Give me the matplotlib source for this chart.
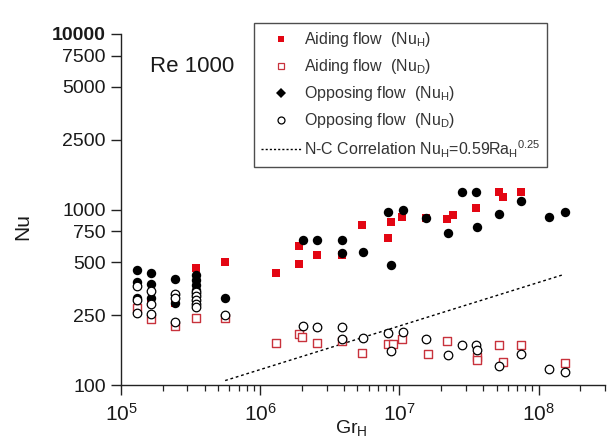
import matplotlib
matplotlib.use("Agg")
import matplotlib.pyplot as plt
from matplotlib.lines import Line2D
from matplotlib.ticker import LogLocator, FixedLocator, FixedFormatter, NullLocator

plt.rcParams['font.family'] = ['Liberation Sans', 'DejaVu Sans']
plt.rcParams['mathtext.fontset'] = 'custom'
plt.rcParams['mathtext.rm'] = 'Liberation Sans'
plt.rcParams['mathtext.it'] = 'Liberation Sans:italic'

# Aiding flow, Nu_H (filled red squares)
aid_h_x = [1.63e5, 2.44e5, 3.48e5, 5.6e5, 1.3e6, 1.9e6, 1.9e6, 2.57e6, 3.86e6, 5.37e6,
           8.3e6, 8.77e6, 1.05e7, 1.55e7, 2.21e7, 2.41e7, 3.55e7, 5.2e7, 5.57e7, 7.5e7]
aid_h_y = [294, 292, 462, 500, 437, 620, 488, 548, 548, 817,
           685, 845, 903, 898, 879, 927, 1023, 1262, 1183, 1253]

# Aiding flow, Nu_D (open red squares)
aid_d_x = [1.3e5, 1.63e5, 2.44e5, 3.48e5, 5.6e5, 1.3e6, 1.9e6, 2.0e6, 2.57e6, 3.86e6,
           5.37e6, 8.34e6, 9.0e6, 1.05e7, 1.61e7, 2.21e7, 3.6e7, 3.6e7, 5.2e7, 5.57e7,
           7.5e7, 1.54e8]
aid_d_y = [274, 237, 217, 240, 242, 174, 195, 188, 174, 178,
           153, 171, 171, 183, 151, 178, 145, 139, 169, 136,
           169, 134]

# Opposing flow, Nu_H (filled black)
opp_h_x = [1.3e5, 1.3e5, 1.3e5, 1.63e5, 1.63e5, 1.63e5, 2.44e5, 2.44e5,
           3.48e5, 3.48e5, 3.48e5, 3.48e5, 3.48e5, 5.6e5,
           2.03e6, 2.57e6, 3.86e6, 3.86e6, 5.46e6, 8.34e6, 8.77e6, 1.06e7, 1.55e7,
           2.23e7, 2.8e7, 3.55e7, 3.6e7, 5.2e7, 7.5e7, 1.19e8, 1.54e8]
opp_h_y = [452, 388, 312, 433, 375, 312, 400, 292,
           424, 398, 372, 350, 330, 314,
           670, 670, 670, 567, 575, 971, 483, 993, 898,
           731, 1253, 1253, 791, 942, 1117, 910, 963]

# Opposing flow, Nu_D (open circles)
opp_d_x = [1.3e5, 1.3e5, 1.3e5, 1.63e5, 1.63e5, 1.63e5, 2.44e5, 2.44e5, 2.44e5,
           3.48e5, 3.48e5, 3.48e5, 3.48e5, 3.48e5, 5.6e5,
           2.03e6, 2.57e6, 3.86e6, 3.86e6, 5.46e6, 8.34e6, 8.77e6, 1.06e7, 1.55e7,
           2.23e7, 2.8e7, 3.55e7, 3.6e7, 5.2e7, 7.5e7, 1.19e8, 1.54e8]
opp_d_y = [366, 305, 256, 343, 291, 254, 330, 315, 230,
           340, 320, 305, 290, 280, 250,
           218, 215, 215, 182, 185, 197, 157, 201, 182,
           148, 169, 169, 158, 128, 150, 123, 119]

# N-C correlation line end points
nc_x = [5.6e5, 1.5e8]
nc_y = [106, 425]

y_ticks = [100, 250, 500, 750, 1000, 2500, 5000, 7500, 10000]
y_labels = ['100', '250', '500', '750', '1000', '2500', '5000', '7500', '10000']

red = '#e30613'
red_open = '#c8323c'
txt = '#1a1a1a'

fig = plt.figure(figsize=(6.12, 4.47), dpi=100)
ax = fig.add_axes([121/612, 1-385/447, 484/612, 351/447])

ax.plot(nc_x, nc_y, color='black', lw=1.0, linestyle=(0, (2, 2)), zorder=1)
ax.scatter(aid_h_x, aid_h_y, marker='s', s=32, color=red, linewidths=0, zorder=3)
ax.scatter(aid_d_x, aid_d_y, marker='s', s=26, facecolor='white', edgecolor=red_open,
           linewidths=1.0, zorder=3)
ax.scatter(opp_h_x, opp_h_y, marker='o', s=46, color='black', linewidths=0, zorder=4)
ax.scatter(opp_d_x, opp_d_y, marker='o', s=38, facecolor='white', edgecolor='black',
           linewidths=0.9, zorder=5)

ax.set_xscale('log')
ax.set_yscale('log')
ax.set_xlim(1e5, 3e8)
ax.set_ylim(100, 10000)

ax.xaxis.set_major_locator(LogLocator(base=10, numticks=10))
ax.xaxis.set_minor_locator(LogLocator(base=10, subs=range(2, 10), numticks=20))
ax.yaxis.set_major_locator(FixedLocator(y_ticks))
ax.yaxis.set_major_formatter(FixedFormatter(y_labels))
ax.yaxis.set_minor_locator(NullLocator())

for s in ['top', 'right']:
    ax.spines[s].set_visible(False)
for s in ['left', 'bottom']:
    ax.spines[s].set_linewidth(1.0)
    ax.spines[s].set_color('#222222')

ax.tick_params(axis='x', which='major', direction='out', length=7, width=1,
               pad=6, labelsize=15, colors='#222222', labelcolor=txt)
ax.tick_params(axis='x', which='minor', direction='out', length=4, width=0.9,
               colors='#222222')
ax.tick_params(axis='y', which='major', direction='out', length=7, width=1,
               pad=4, labelsize=14, colors='#222222', labelcolor=txt)
ax.get_yticklabels()[-1].set_fontweight('bold')

fig.text(23/612, 1-226/447, 'Nu', rotation=90, ha='center', va='center',
         fontsize=15, color=txt)
fig.text(351/612, 1-428/447, 'Gr$_\\mathregular{H}$', ha='center', va='center',
         fontsize=14, color=txt)
fig.text(150/612, 1-66/447, 'Re 1000', ha='left', va='center', fontsize=16, color=txt)

handles = [
    Line2D([], [], ls='none', marker='s', ms=5, color=red, mew=0),
    Line2D([], [], ls='none', marker='s', ms=5, mfc='white', mec=red_open, mew=0.9),
    Line2D([], [], ls='none', marker='D', ms=5, color='black', mew=0),
    Line2D([], [], ls='none', marker='o', ms=5, mfc='white', mec='black', mew=0.9),
    Line2D([], [], color='black', lw=1.0, ls=(0, (1.5, 1.5))),
]
labels = [
    'Aiding flow  (Nu$_\\mathregular{H}$)',
    'Aiding flow  (Nu$_\\mathregular{D}$)',
    'Opposing flow  (Nu$_\\mathregular{H}$)',
    'Opposing flow  (Nu$_\\mathregular{D}$)',
    'N-C Correlation Nu$_\\mathregular{H}$=0.59Ra$_\\mathregular{H}$$^\\mathregular{0.25}$',
]
leg = fig.legend(handles, labels, loc='upper left', bbox_to_anchor=(254/612, 1-23/447),
                 bbox_transform=fig.transFigure, borderaxespad=0, frameon=True,
                 fancybox=False, edgecolor='#222222', fontsize=11.5, handlelength=2.5,
                 handletextpad=0.15, labelspacing=0.5, borderpad=0.45)
leg.get_frame().set_linewidth(1.0)
for t in leg.get_texts():
    t.set_color('#333333')

fig.savefig('out.png', dpi=100)
